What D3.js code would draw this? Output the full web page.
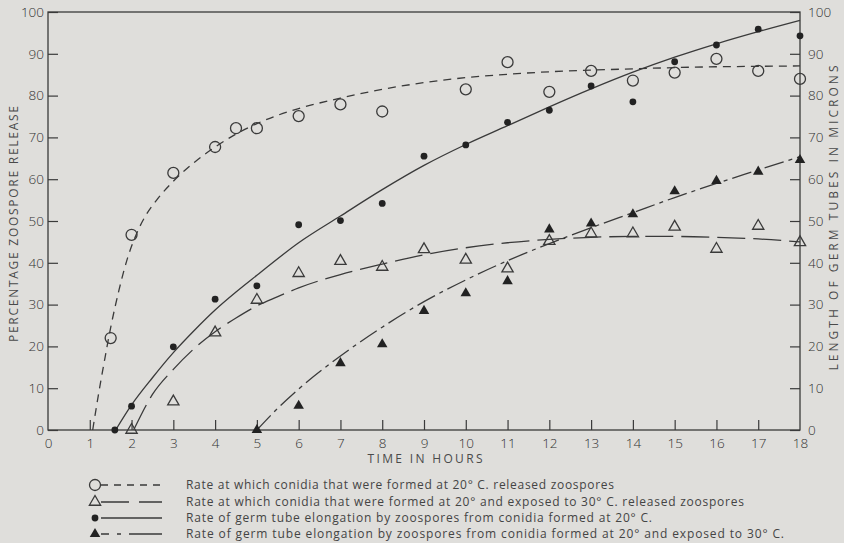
<!DOCTYPE html>
<html>
<head>
<meta charset="utf-8">
<script src="https://cdn.jsdelivr.net/npm/d3@7"></script>
<style>
  html, body { margin: 0; padding: 0; background: #dfdedb; }
  #chart { width: 844px; height: 543px; }
</style>
</head>
<body>
<div id="chart"></div>
<script>
// Observed points (hours -> value)
const hours = [1.5, 2, 3, 4, 4.5, 5, 6, 7, 8, 10, 11, 12, 13, 14, 15, 16, 17, 18];
const release20 = [22, 46.7, 61.5, 67.7, 72.2, 72.2, 75.1, 77.9, 76.2, 81.5, 88, 80.9, 85.9, 83.6, 85.5, 88.8, 85.9, 84];

const hours30 = [2, 3, 4, 5, 6, 7, 8, 9, 10, 11, 12, 13, 14, 15, 16, 17, 18];
const release30 = [0, 6.8, 23.3, 31.1, 37.5, 40.4, 39, 43.2, 40.7, 38.6, 45.2, 47, 47, 48.6, 43.3, 48.8, 44.9];

const hoursTube20 = [1.6, 2, 3, 4, 5, 6, 7, 8, 9, 10, 11, 12, 13, 14, 15, 16, 17, 18];
const tube20 = [0, 5.7, 19.9, 31.3, 34.5, 49.1, 50.1, 54.2, 65.5, 68.2, 73.6, 76.5, 82.3, 78.5, 88.1, 92.1, 95.9, 94.3];

const hoursTube30 = [5, 6, 7, 8, 9, 10, 11, 12, 13, 14, 15, 16, 17, 18];
const tube30 = [0, 5.8, 16, 20.5, 28.5, 32.7, 35.6, 48, 49.4, 51.6, 57.1, 59.6, 61.8, 64.6];

// Fitted curves as drawn (hours, value)
const fitRelease20 = [[1.07,0],[1.2,8],[1.35,16.5],[1.5,24.5],[1.7,33.5],[1.9,41],[2.1,46.5],[2.35,51.5],[2.6,55],[3,59.5],[3.5,64],[4,67.7],[4.5,70.8],[5,73.3],[5.5,75.3],[6,76.9],[7,79.4],[8,81.5],[9,83.1],[10,84.3],[11,85.1],[12,85.7],[13,86.1],[14,86.4],[15,86.7],[16,86.9],[17,87],[18,87.1]];
const fitRelease30 = [[2.05,0],[2.5,8.5],[3,14.5],[3.5,19.5],[4,23.5],[4.5,26.8],[5,29.7],[5.5,31.9],[6,34],[7,37.2],[8,39.7],[9,41.9],[10,43.6],[11,44.8],[12,45.6],[13,46.1],[14,46.3],[15,46.3],[16,46.1],[17,45.7],[18,45]];
const fitTube20 = [[1.62,0],[2,6],[2.5,12.5],[3,18.5],[3.5,23.8],[4,28.7],[4.5,33],[5,37],[6,44.8],[7,51.2],[8,57.5],[9,63.3],[10,68.3],[11,72.8],[12,77.3],[13,81.6],[14,85.6],[15,89.2],[16,92.4],[17,95.3],[18,98]];
const fitTube30 = [[5,0],[5.5,5.2],[6,9.8],[7,17.7],[8,24.6],[9,30.7],[10,35.9],[11,40.5],[12,44.6],[13,48.4],[14,52],[15,55.6],[16,59],[17,62.2],[18,65.4]];

const xTicks = d3.range(0, 19);
const yTicks = d3.range(0, 101, 10);

const legendLabels = [
  "Rate at which conidia that were formed at 20° C. released zoospores",
  "Rate at which conidia that were formed at 20° and exposed to 30° C. released zoospores",
  "Rate of germ tube elongation by zoospores from conidia formed at 20° C.",
  "Rate of germ tube elongation by zoospores from conidia formed at 20° and exposed to 30° C."
];

window.onload = function () {
  const width = 844, height = 543;
  const ink = "#3a3a3a";
  const textCol = "#444";
  const font = "'Open Sans', 'DejaVu Sans', sans-serif";

  const svg = d3.select("#chart").append("svg")
    .attr("width", width).attr("height", height)
    .style("font-family", font).style("font-weight", "400");

  const x = d3.scaleLinear().domain([0, 18]).range([48, 800]);
  const yL = d3.scaleLinear().domain([0, 100]).range([430, 12]);
  const yR = d3.scaleLinear().domain([0, 100]).range([430, 12]);

  // frame
  svg.append("rect")
    .attr("x", x(0)).attr("y", yL(100))
    .attr("width", x(18) - x(0)).attr("height", yL(0) - yL(100))
    .attr("fill", "none").attr("stroke", ink).attr("stroke-width", 1.3);

  function styleAxis(g) {
    g.select(".domain").remove();
    g.selectAll(".tick line").attr("stroke", ink).attr("stroke-width", 1.2);
    g.selectAll(".tick text").attr("fill", "#333")
      .style("font-size", "13.5px").style("font-family", font).style("font-weight", "300");
  }

  svg.append("g").attr("transform", `translate(0,${yL(0)})`)
    .call(d3.axisBottom(x).tickValues(xTicks.slice(1, 18)).tickSize(-10).tickPadding(8).tickFormat(d3.format("d")))
    .call(styleAxis);
  // "0" and "18" labels at corners
  svg.append("g").attr("transform", `translate(0,${yL(0)})`)
    .call(d3.axisBottom(x).tickValues([0, 18]).tickSize(0).tickPadding(8).tickFormat(d3.format("d")))
    .call(styleAxis);

  svg.append("g").attr("transform", `translate(${x(0)},0)`)
    .call(d3.axisLeft(yL).tickValues(yTicks).tickSize(-10).tickPadding(4))
    .call(styleAxis);

  svg.append("g").attr("transform", `translate(${x(18)},0)`)
    .call(d3.axisRight(yR).tickValues(yTicks).tickSize(-10).tickPadding(8))
    .call(styleAxis);

  // axis titles
  const titles = svg.append("g").attr("fill", "#4a4a4a").style("font-size", "12px");

  titles.append("text")
    .attr("transform", "translate(18,224) rotate(-90)")
    .attr("text-anchor", "middle")
    .attr("textLength", 236).attr("lengthAdjust", "spacing")
    .text("PERCENTAGE  ZOOSPORE  RELEASE");

  titles.append("text")
    .attr("transform", "translate(838,218) rotate(-90)")
    .attr("text-anchor", "middle")
    .attr("textLength", 305).attr("lengthAdjust", "spacing")
    .text("LENGTH  OF  GERM  TUBES  IN  MICRONS");

  titles.append("text")
    .attr("x", 425).attr("y", 463)
    .attr("text-anchor", "middle")
    .attr("textLength", 115).attr("lengthAdjust", "spacing")
    .text("TIME  IN  HOURS");

  // fitted curves
  const lineL = d3.line().x(d => x(d[0])).y(d => yL(d[1])).curve(d3.curveMonotoneX);
  const lineR = d3.line().x(d => x(d[0])).y(d => yR(d[1])).curve(d3.curveMonotoneX);

  svg.append("path").datum(fitRelease20).attr("d", lineL)
    .attr("fill", "none").attr("stroke", ink).attr("stroke-width", 1.3).attr("stroke-dasharray", "8,6");
  svg.append("path").datum(fitRelease30).attr("d", lineL)
    .attr("fill", "none").attr("stroke", ink).attr("stroke-width", 1.3).attr("stroke-dasharray", "28,8");
  svg.append("path").datum(fitTube20).attr("d", lineR)
    .attr("fill", "none").attr("stroke", ink).attr("stroke-width", 1.3);
  svg.append("path").datum(fitTube30).attr("d", lineR)
    .attr("fill", "none").attr("stroke", ink).attr("stroke-width", 1.3).attr("stroke-dasharray", "20,5,4,5");

  // markers
  const tri = d3.symbol().type(d3.symbolTriangle);

  function drawMarker(g, kind, cx, cy) {
    if (kind === 0) {
      g.append("circle").attr("cx", cx).attr("cy", cy).attr("r", 5.5)
        .attr("fill", "none").attr("stroke", ink).attr("stroke-width", 1.3);
    } else if (kind === 1) {
      g.append("path").attr("d", tri.size(55)())
        .attr("transform", `translate(${cx},${cy})`)
        .attr("fill", "none").attr("stroke", ink).attr("stroke-width", 1.3);
    } else if (kind === 2) {
      g.append("circle").attr("cx", cx).attr("cy", cy).attr("r", 3.4).attr("fill", "#222");
    } else {
      g.append("path").attr("d", tri.size(48)())
        .attr("transform", `translate(${cx},${cy})`)
        .attr("fill", "#222");
    }
  }

  const marks = svg.append("g");
  hours.forEach((h, i) => drawMarker(marks, 0, x(h), yL(release20[i])));
  hours30.forEach((h, i) => drawMarker(marks, 1, x(h), yL(release30[i])));
  hoursTube20.forEach((h, i) => drawMarker(marks, 2, x(h), yR(tube20[i])));
  hoursTube30.forEach((h, i) => drawMarker(marks, 3, x(h), yR(tube30[i])));

  // legend
  const legendY = [485, 502, 518, 534];
  const legendEnd = [614, 744, 652, 784];
  const legendDash = ["7,6", "28,10", null, "8,8,4,8,40"];
  const leg = svg.append("g");
  legendLabels.forEach((label, i) => {
    const yy = legendY[i];
    drawMarker(leg, i, 95, yy);
    leg.append("line")
      .attr("x1", 101).attr("x2", 162).attr("y1", yy).attr("y2", yy)
      .attr("stroke", ink).attr("stroke-width", 1.3)
      .attr("stroke-dasharray", legendDash[i]);
    leg.append("text")
      .attr("x", 186).attr("y", yy + 4)
      .attr("fill", textCol).style("font-size", "12px")
      .attr("textLength", legendEnd[i] - 186).attr("lengthAdjust", "spacing")
      .text(label);
  });
};
</script>
</body>
</html>
